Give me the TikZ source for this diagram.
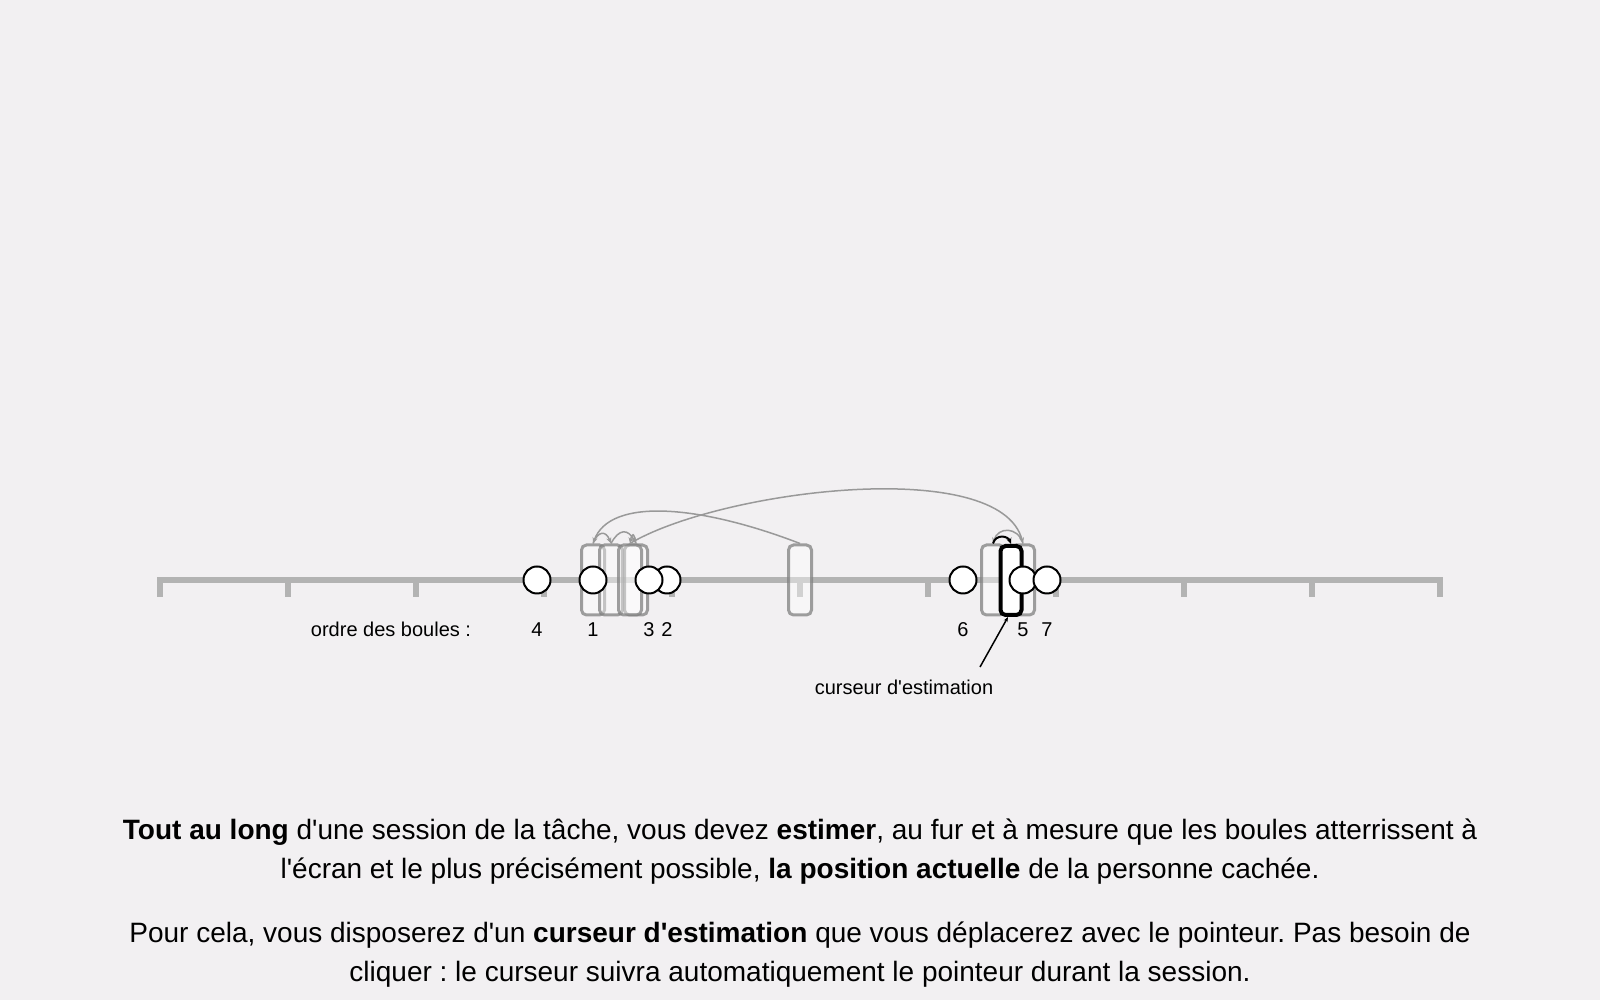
\documentclass[tikz,border=0pt]{standalone}
\usepackage{fontspec}
\setmainfont{Liberation Sans}[Ligatures=TeXOff]
\usetikzlibrary{positioning,arrows.meta}
\definecolor{fond}{HTML}{F2F0F2}
\definecolor{axe}{HTML}{B3B3B3}
\definecolor{trace}{HTML}{999999}
\frenchspacing

\tikzset{
  boule/.style={circle, draw=black, line width=2pt, fill=white, minimum size=27pt, inner sep=0pt},
  ancien/.style={draw=black!50, draw opacity=0.75, line width=3pt, fill=white, fill opacity=0.4,
    rounded corners=5pt, minimum width=23pt, minimum height=70pt, inner sep=0pt},
  curseur/.style={draw=black, line width=4pt, fill=white, rounded corners=5pt,
    minimum width=21pt, minimum height=69pt, inner sep=0pt},
  saut/.style={draw=trace, line width=1.5pt, -{Stealth[length=6pt,width=5pt]}},
  etiq/.style={font=\fontsize{20}{24}\selectfont, anchor=base},
  texte/.style={font=\fontsize{28}{39}\selectfont, anchor=base},
}

\begin{document}
\begin{tikzpicture}[x=1pt,y=1pt]
    % Background
    \fill[fond] (0,0) rectangle (1600,1000);
    \useasboundingbox (0,0) rectangle (1600,1000);

    % Draw axis and ticks
    \draw[axe, line width=5.3pt] (157.35,420) -- (1442.65,420);
    \foreach \t in {160,288,...,1440}
        \draw[axe, line width=5.3pt] (\t,422.65) -- (\t,402.7);

    % Previous estimates
    \node[ancien] (init) at (800,420) {};
    \node[ancien] (e1) at (593,420) {};
    \node[ancien] (e2) at (611,420) {};
    \node[ancien] (e3) at (636,420) {};
    \node[ancien] (e4) at (630,420) {};
    \node[ancien] (e5) at (1023,420) {};
    \node[ancien] (e6) at (993,420) {};

    % Current estimate
    \node[curseur] (cur) at (1011,419.5) {};

    % Moves of the cursor
    \draw[saut] (init.north) .. controls (700,495) and (610,503) .. (e1.north);
    \draw[saut] (e1.north) .. controls +(5,13) and +(-5,13) .. (e2.north);
    \draw[saut] (e2.north) .. controls +(8,15) and +(-8,15) .. (e3.north);
    \draw[saut] (e3.north) .. controls +(-2,11) and +(2,11) .. (e4.north);
    \draw[saut] (e4.north) .. controls (720,510) and (1000,545) .. (e5.north);
    \draw[saut] (e5.north) .. controls +(-5,17) and +(5,17) .. (e6.north);
    \draw[saut, draw=black, line width=2pt] (e6.north) .. controls +(3,10) and +(-3,8) .. (cur.north);

    % Balls
    \node[boule] (b1) at (593,420) {};
    \node[boule] (b2) at (667,420) {};
    \node[boule] (b3) at (649,420) {};
    \node[boule] (b4) at (537,420) {};
    \node[boule] (b5) at (1023,420) {};
    \node[boule] (b6) at (963,420) {};
    \node[boule] (b7) at (1047,420) {};

    % Order of the balls
    \node[etiq] (ordre) at (391,363) {ordre des boules :};
    \foreach \i in {1,...,7}
        \node[etiq, below=57pt of b\i.center, anchor=base] (n\i) {\i};

    % Cursor label
    \node[etiq] (nomcur) at (904,305) {curseur d'estimation};
    \coordinate (ptr) at (980,333);
    \draw[line width=1.5pt, -{Stealth[length=5pt,width=4pt]}] (ptr) -- ([xshift=-3pt]cur.south);

    % Instructions
    \node[texte] (l1) at (800,160.7) {\textbf{Tout au long} d'une session de la tâche, vous devez \textbf{estimer}, au fur et à mesure que les boules atterrissent à};
    \node[texte] (l2) at (800,121.7) {l'écran et le plus précisément possible, \textbf{la position actuelle} de la personne cachée.};
    \node[texte] (l3) at (800,57.7) {Pour cela, vous disposerez d'un \textbf{curseur d'estimation} que vous déplacerez avec le pointeur. Pas besoin de};
    \node[texte] (l4) at (800,18.7) {cliquer : le curseur suivra automatiquement le pointeur durant la session.};
\end{tikzpicture}
\end{document}
